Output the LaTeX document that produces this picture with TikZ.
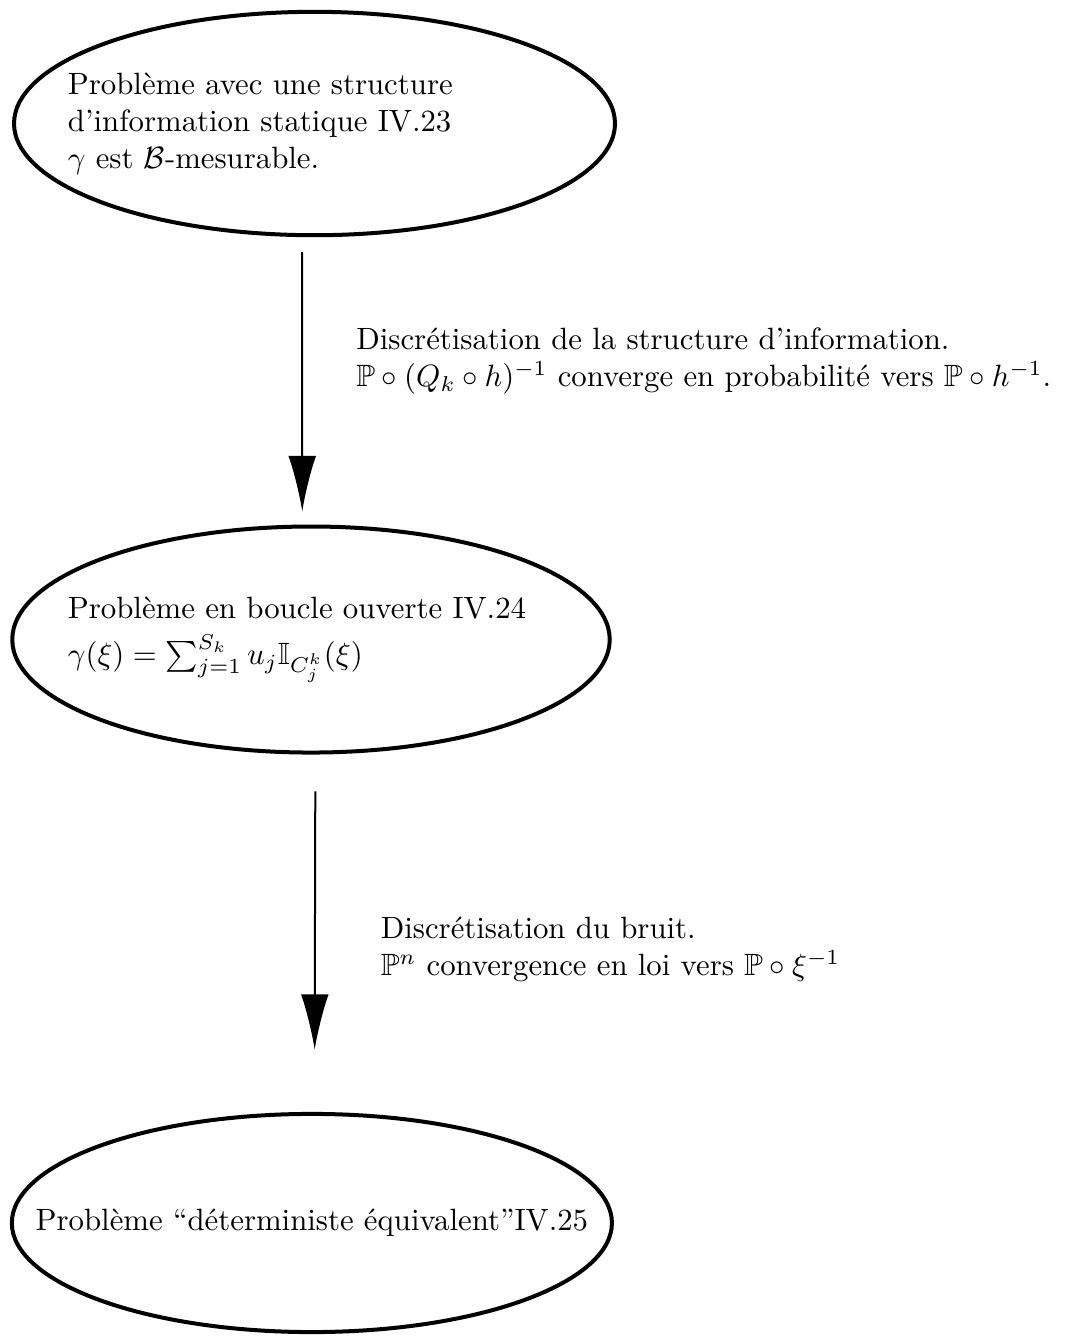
\documentclass[tikz,border=0pt]{standalone}
\usepackage{amsmath}
\usepackage{amssymb}
\usepackage{amsfonts}
\usepackage{tikz}
\usetikzlibrary{shapes.geometric,arrows.meta,positioning}

\begin{document}
\begin{tikzpicture}[>={Latex[length=18pt,width=9pt]},
    etat/.style={draw,ellipse,line width=1.3pt,inner xsep=-0.9cm,inner ysep=0pt},
    fleche/.style={->,line width=0.65pt},
    legende/.style={align=left,anchor=west,inner sep=0pt}]
        \useasboundingbox (0,0) rectangle (12.22,-15.25);
        \node[etat,minimum width=6.86cm,minimum height=2.55cm,text width=5.63cm,align=left] (P1) at (3.59,-1.41)
            {Problème avec une structure\\d'information statique IV.23\\\(\gamma\) est \(\mathcal{B}\)-mesurable.};
        \node[etat,minimum width=6.82cm,minimum height=2.58cm,text width=5.55cm,align=left] (P2) at (3.55,-7.30)
            {Problème en boucle ouverte IV.24\\[3pt]\(\gamma(\xi)=\sum_{j=1}^{S_k}u_j\mathbb{I}_{C_j^k}(\xi)\)};
        \node[etat,minimum width=6.85cm,minimum height=2.49cm] (P3) at (3.56,-13.96)
            {Problème ``déterministe équivalent''IV.25};
        \draw[fleche,shorten <=0.17cm,shorten >=0.15cm] ([xshift=-0.14cm]P1.south) -- ([xshift=-0.10cm]P2.north);
        \draw[fleche,shorten <=0.42cm,shorten >=0.71cm] ([xshift=0.05cm]P2.south) -- ([xshift=0.03cm]P3.north);
        \node[legende] (D1) at (4.06,-4.12)
            {Discrétisation de la structure d'information.\\\(\mathbb{P}\circ(Q_k\circ h)^{-1}\) converge en probabilité vers \(\mathbb{P}\circ h^{-1}\).};
        \node[legende] (D2) at (4.34,-10.84)
            {Discrétisation du bruit.\\\(\mathbb{P}^n\) convergence en loi vers \(\mathbb{P}\circ\xi^{-1}\)};
    \end{tikzpicture}
\end{document}
